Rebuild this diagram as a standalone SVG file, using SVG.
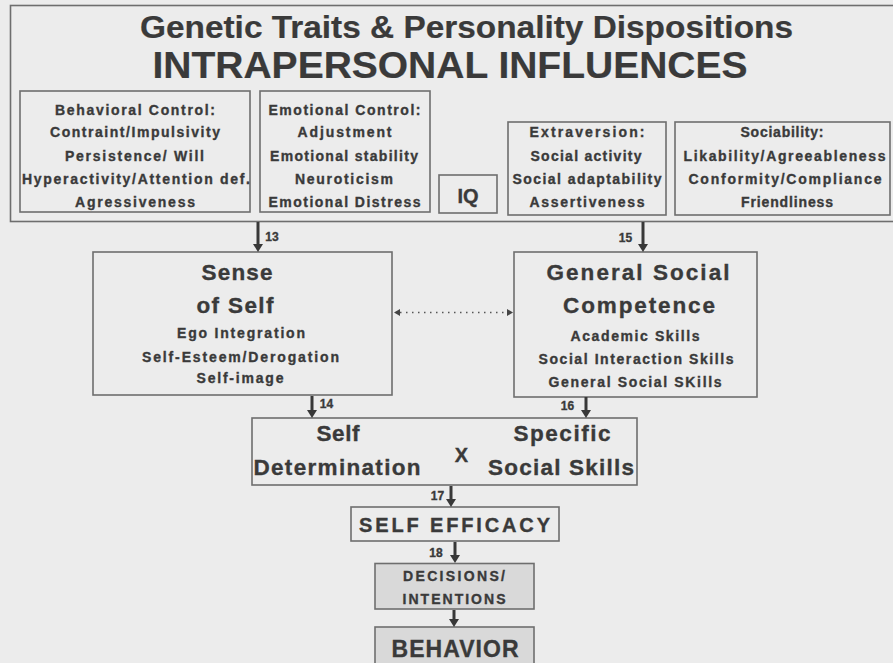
<svg xmlns="http://www.w3.org/2000/svg" width="893" height="663" viewBox="0 0 893 663">
  <style>
    text { font-family: "Liberation Sans", Arial, sans-serif; font-weight: bold; fill: #3a3a3a; stroke: #3a3a3a; stroke-width: 0.35; text-anchor: middle; }
    .title1 { font-size: 31px; stroke-width: 0.2; }
    .title2 { font-size: 37px; stroke-width: 0.2; }
    .sm { font-size: 14px; }
    .big { font-size: 22.5px; }
    .mid { font-size: 20px; }
    .num { font-size: 12px; }
    .box { fill: none; stroke: #6e6e6e; stroke-width: 1.6; }
    .shade { fill: #d9d9d9; stroke: #6e6e6e; stroke-width: 1.6; }
    .arrow { stroke: #383838; stroke-width: 3; fill: none; marker-end: url(#head); }
    .dots { stroke: #555; stroke-width: 1.6; stroke-dasharray: 1.5 4.5; fill: none; marker-start: url(#small); marker-end: url(#small); }
  </style>
  <defs>
    <marker id="head" viewBox="0 -5 8 10" refX="0" refY="0" markerWidth="8" markerHeight="10" markerUnits="userSpaceOnUse" orient="auto">
      <path d="M0,-5 L8,0 L0,5 z" fill="#383838"/>
    </marker>
    <marker id="small" viewBox="0 -3.5 6 7" refX="0" refY="0" markerWidth="6" markerHeight="7" markerUnits="userSpaceOnUse" orient="auto-start-reverse">
      <path d="M0,-3.5 L6,0 L0,3.5 z" fill="#444"/>
    </marker>
  </defs>

  <rect x="0" y="0" width="893" height="663" fill="#ececec"/>

  <!-- Intrapersonal influences panel -->
  <g id="intrapersonal">
    <rect class="box" x="10.5" y="5.5" width="900" height="216"/>
    <text class="title1" x="466.5" y="37.5" textLength="653" lengthAdjust="spacingAndGlyphs">Genetic Traits &amp; Personality Dispositions</text>
    <text class="title2" x="450" y="78" textLength="595" lengthAdjust="spacingAndGlyphs">INTRAPERSONAL INFLUENCES</text>
  </g>

  <g id="behavioral-control">
    <rect class="box" x="20" y="91" width="230" height="121"/>
    <text class="sm" x="135" y="115" textLength="160">Behavioral Control:</text>
    <text class="sm" x="135" y="137" textLength="170">Contraint/Impulsivity</text>
    <text class="sm" x="134.5" y="160.5" textLength="139">Persistence/ Will</text>
    <text class="sm" x="136" y="184" textLength="228">Hyperactivity/Attention def.</text>
    <text class="sm" x="135" y="206.5" textLength="120">Agressiveness</text>
  </g>

  <g id="emotional-control">
    <rect class="box" x="260" y="91" width="170" height="121"/>
    <text class="sm" x="344.5" y="115" textLength="152">Emotional Control:</text>
    <text class="sm" x="344.5" y="137" textLength="94">Adjustment</text>
    <text class="sm" x="344" y="160.5" textLength="148">Emotional stability</text>
    <text class="sm" x="344" y="184" textLength="98">Neuroticism</text>
    <text class="sm" x="344.5" y="206.5" textLength="152">Emotional Distress</text>
  </g>

  <g id="iq">
    <rect class="box" x="439" y="175" width="58" height="38"/>
    <text x="468" y="203" style="font-size:20px">IQ</text>
  </g>

  <g id="extraversion">
    <rect class="box" x="508" y="122" width="158" height="93"/>
    <text class="sm" x="587" y="137" textLength="115">Extraversion:</text>
    <text class="sm" x="586" y="160.5" textLength="111">Social activity</text>
    <text class="sm" x="587" y="184" textLength="149">Social adaptability</text>
    <text class="sm" x="587" y="207" textLength="115">Assertiveness</text>
  </g>

  <g id="sociability">
    <rect class="box" x="675" y="122" width="215" height="93"/>
    <text class="sm" x="782" y="137" textLength="83">Sociability:</text>
    <text class="sm" x="784.5" y="160.5" textLength="202">Likability/Agreeableness</text>
    <text class="sm" x="785" y="184" textLength="193">Conformity/Compliance</text>
    <text class="sm" x="787" y="207" textLength="92">Friendliness</text>
  </g>

  <!-- Sense of self -->
  <g id="sense-of-self">
    <rect class="box" x="93" y="252" width="299" height="143"/>
    <text class="big" x="237" y="280" textLength="71">Sense</text>
    <text class="big" x="235" y="313" textLength="77">of Self</text>
    <text class="sm" x="241" y="338" textLength="128">Ego Integration</text>
    <text class="sm" x="240.5" y="362" textLength="197">Self-Esteem/Derogation</text>
    <text class="sm" x="240" y="383" textLength="87">Self-image</text>
  </g>

  <!-- General social competence -->
  <g id="social-competence">
    <rect class="box" x="514" y="252" width="243" height="145"/>
    <text class="big" x="638" y="280" textLength="183">General Social</text>
    <text class="big" x="639" y="313" textLength="152">Competence</text>
    <text class="sm" x="635" y="340.5" textLength="129">Academic Skills</text>
    <text class="sm" x="636" y="364" textLength="195">Social Interaction Skills</text>
    <text class="sm" x="635" y="387" textLength="173">General Social SKills</text>
  </g>

  <!-- Self determination x specific social skills -->
  <g id="determination-skills">
    <rect class="box" x="252" y="418" width="385" height="67"/>
    <text class="big" x="338" y="441" textLength="43">Self</text>
    <text class="big" x="337" y="474.5" textLength="167">Determination</text>
    <text x="461.5" y="462" style="font-size:20px">X</text>
    <text class="big" x="562" y="441" textLength="97">Specific</text>
    <text class="big" x="561" y="474.5" textLength="146">Social Skills</text>
  </g>

  <g id="self-efficacy">
    <rect class="box" x="351" y="507" width="208" height="34"/>
    <text class="mid" x="454.5" y="532" textLength="191">SELF EFFICACY</text>
  </g>

  <g id="decisions">
    <rect class="shade" x="375" y="563.5" width="159" height="45.5"/>
    <text class="sm" x="454" y="581" textLength="102">DECISIONS/</text>
    <text class="sm" x="454" y="603.5" textLength="103">INTENTIONS</text>
  </g>

  <g id="behavior">
    <rect class="shade" x="375" y="627" width="159" height="50"/>
    <text x="455" y="656.5" style="font-size:23px" textLength="127">BEHAVIOR</text>
  </g>

  <!-- Connectors -->
  <g id="connectors">
    <line class="arrow" x1="258" y1="222" x2="258" y2="244"/>
    <text class="num" x="272" y="241">13</text>
    <line class="arrow" x1="643" y1="222" x2="643" y2="244"/>
    <text class="num" x="625.5" y="242">15</text>
    <line class="dots" x1="400" y1="312.5" x2="507" y2="312.5"/>
    <line class="arrow" x1="312" y1="396" x2="312" y2="410"/>
    <text class="num" x="326.5" y="407.5">14</text>
    <line class="arrow" x1="586" y1="397" x2="586" y2="410"/>
    <text class="num" x="567.5" y="410">16</text>
    <line class="arrow" x1="451" y1="486" x2="451" y2="499"/>
    <text class="num" x="437.5" y="500">17</text>
    <line class="arrow" x1="455" y1="542" x2="455" y2="555"/>
    <text class="num" x="436" y="557">18</text>
    <line class="arrow" x1="454" y1="610" x2="454" y2="619"/>
  </g>
</svg>
